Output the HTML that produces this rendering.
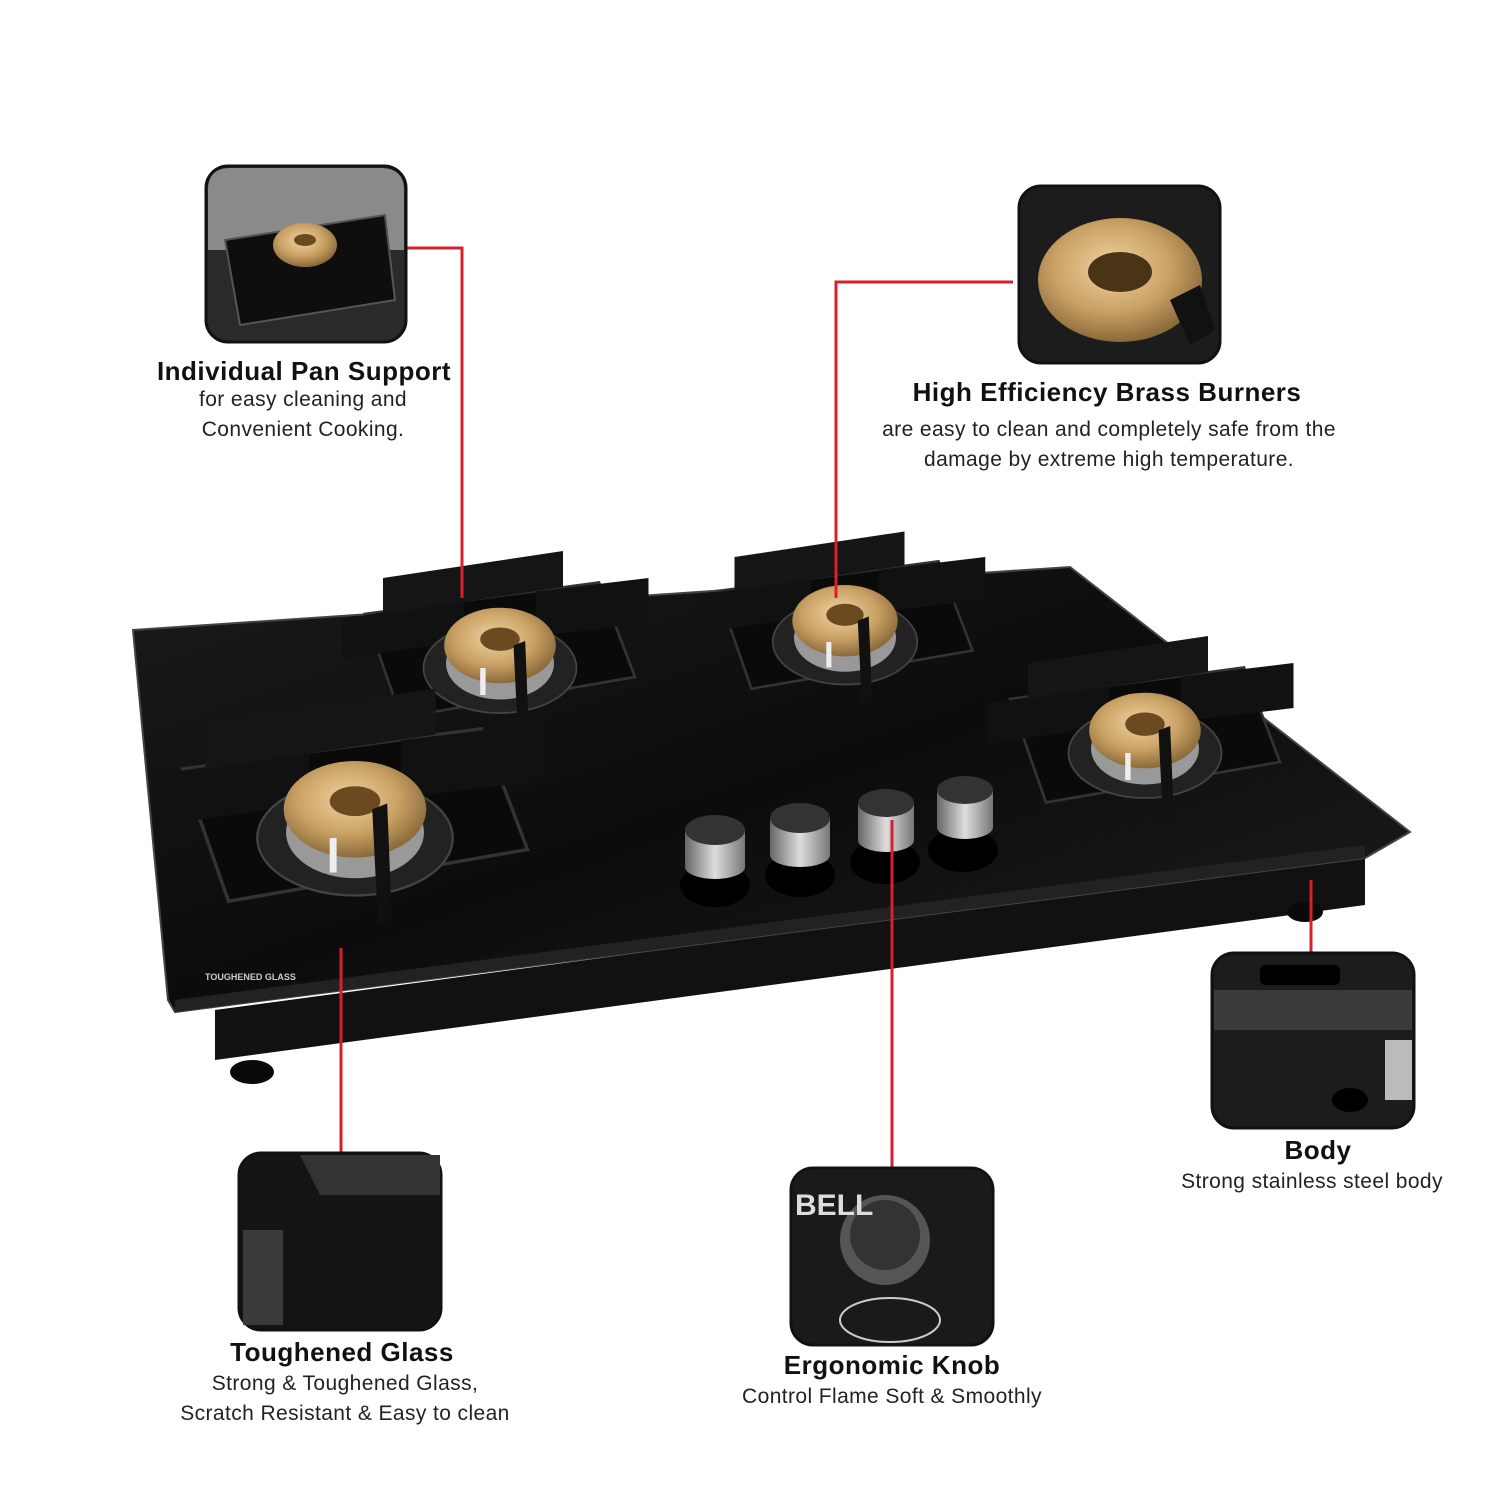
<!DOCTYPE html>
<html><head><meta charset="utf-8"><style>
html,body{margin:0;padding:0;background:#fff}
svg{display:block}
.t{font-family:"Liberation Sans",sans-serif;font-weight:bold;font-size:26px;fill:#111;letter-spacing:0.5px}
.s{font-family:"Liberation Sans",sans-serif;font-size:21px;fill:#222;letter-spacing:0.4px}
</style></head><body>
<svg width="1500" height="1500" viewBox="0 0 1500 1500" xmlns="http://www.w3.org/2000/svg">
<defs>
<radialGradient id="brass" cx="45%" cy="40%" r="60%"><stop offset="0" stop-color="#f0d4a0"/><stop offset="0.6" stop-color="#c9a064"/><stop offset="1" stop-color="#8a6a3a"/></radialGradient>
<linearGradient id="glass" x1="0" y1="0" x2="1" y2="1"><stop offset="0" stop-color="#1a1a1a"/><stop offset="0.5" stop-color="#0c0c0c"/><stop offset="1" stop-color="#1e1e1e"/></linearGradient>
<linearGradient id="knob" x1="0" y1="0" x2="1" y2="0"><stop offset="0" stop-color="#666"/><stop offset="0.5" stop-color="#ddd"/><stop offset="1" stop-color="#777"/></linearGradient>
<g id="burner">
  <polygon points="-150,-40 110,-75 150,30 -110,75" fill="#0a0a0a" stroke="#333" stroke-width="3"/>
  <polygon points="-175,-35 -40,-55 -40,-10 -175,10" fill="#111"/>
  <polygon points="40,-65 165,-80 165,-30 40,-15" fill="#111"/>
  <polygon points="-130,-80 70,-110 70,-70 -130,-40" fill="#151515"/>
  <ellipse cx="0" cy="20" rx="85" ry="50" fill="#222" stroke="#444" stroke-width="2"/>
  <ellipse cx="0" cy="15" rx="60" ry="40" fill="#999"/>
  <ellipse cx="0" cy="-5" rx="62" ry="42" fill="url(#brass)"/>
  <ellipse cx="0" cy="-12" rx="22" ry="13" fill="#6b4a22"/>
  <polygon points="15,-5 28,-10 32,90 20,95" fill="#111"/>
  <rect x="-22" y="20" width="6" height="30" fill="#eee"/>
</g>
</defs>
<rect width="1500" height="1500" fill="#fff"/>

<!-- body -->
<polygon points="215,1010 1365,855 1365,905 215,1060" fill="#111"/>
<ellipse cx="252" cy="1072" rx="22" ry="12" fill="#0a0a0a"/>
<ellipse cx="1305" cy="912" rx="18" ry="10" fill="#0a0a0a"/>
<!-- glass -->
<polygon points="133,630 1070,567 1410,832 1365,858 175,1012 168,1000" fill="url(#glass)" stroke="#444" stroke-width="2"/>
<polygon points="175,1000 1365,845 1365,858 175,1012" fill="#222"/>

<!-- burners -->
<use href="#burner" transform="translate(500,650) scale(0.9)"/>
<use href="#burner" transform="translate(845,625) scale(0.85)"/>
<use href="#burner" transform="translate(1145,735) scale(0.9)"/>
<use href="#burner" transform="translate(355,815) scale(1.15)"/>

<!-- knobs -->
<g>
<ellipse cx="715" cy="885" rx="35" ry="22" fill="#000"/><path d="M685,832 a30,15 0 0 1 60,0 v35 a30,12 0 0 1 -60,0z" fill="url(#knob)"/><ellipse cx="715" cy="830" rx="30" ry="15" fill="#333"/>
<ellipse cx="800" cy="875" rx="35" ry="22" fill="#000"/><path d="M770,820 a30,15 0 0 1 60,0 v35 a30,12 0 0 1 -60,0z" fill="url(#knob)"/><ellipse cx="800" cy="818" rx="30" ry="15" fill="#333"/>
<ellipse cx="885" cy="862" rx="35" ry="22" fill="#000"/><path d="M858,805 a28,14 0 0 1 56,0 v35 a28,12 0 0 1 -56,0z" fill="url(#knob)"/><ellipse cx="886" cy="803" rx="28" ry="14" fill="#333"/>
<ellipse cx="963" cy="850" rx="35" ry="22" fill="#000"/><path d="M937,792 a28,14 0 0 1 56,0 v35 a28,12 0 0 1 -56,0z" fill="url(#knob)"/><ellipse cx="965" cy="790" rx="28" ry="14" fill="#333"/>
</g>
<text x="205" y="980" font-family="Liberation Sans" font-size="9" fill="#ccc" font-weight="bold">TOUGHENED GLASS</text>

<!-- red connectors -->
<g stroke="#d6202f" stroke-width="3" fill="none">
<polyline points="406,248 462,248 462,598"/>
<polyline points="1013,282 836,282 836,598"/>
<line x1="341" y1="948" x2="341" y2="1152"/>
<line x1="892" y1="820" x2="892" y2="1168"/>
<line x1="1311" y1="880" x2="1311" y2="953"/>
</g>

<!-- callout boxes -->
<g stroke="#111" stroke-width="3">
<rect x="206" y="166" width="200" height="176" rx="22" fill="#2a2a2a"/>
<rect x="1019" y="186" width="201" height="177" rx="22" fill="#1c1c1c"/>
<rect x="239" y="1153" width="202" height="177" rx="22" fill="#141414"/>
<rect x="791" y="1168" width="202" height="177" rx="22" fill="#1a1a1a"/>
<rect x="1212" y="953" width="202" height="175" rx="22" fill="#1c1c1c"/>
</g>
<!-- box details -->
<path d="M208,190 q0,-22 22,-22 h150 q24,0 24,22 v60 l-196,0z" fill="#8a8a8a"/>
<polygon points="225,240 385,215 395,300 240,325" fill="#0e0e0e" stroke="#555" stroke-width="2"/>
<ellipse cx="305" cy="245" rx="32" ry="22" fill="url(#brass)"/><ellipse cx="305" cy="240" rx="11" ry="6" fill="#6b4a22"/>
<ellipse cx="1120" cy="280" rx="82" ry="62" fill="url(#brass)"/><ellipse cx="1120" cy="272" rx="32" ry="20" fill="#4a3418"/>
<polygon points="1170,300 1200,285 1215,330 1190,345" fill="#111"/>
<polygon points="300,1155 440,1155 440,1195 320,1195" fill="#333"/>
<rect x="243" y="1230" width="40" height="95" fill="#3a3a3a"/>
<circle cx="885" cy="1240" r="45" fill="#555"/><circle cx="885" cy="1235" r="35" fill="#333"/>
<ellipse cx="890" cy="1320" rx="50" ry="22" fill="none" stroke="#ccc" stroke-width="2"/>
<text x="795" y="1215" font-family="Liberation Sans" font-weight="bold" font-size="30" fill="#ddd">BELL</text>
<rect x="1214" y="990" width="198" height="40" fill="#3a3a3a"/>
<rect x="1260" y="965" width="80" height="20" rx="5" fill="#000"/>
<rect x="1385" y="1040" width="27" height="60" fill="#bbb"/>
<ellipse cx="1350" cy="1100" rx="18" ry="12" fill="#000"/>

<!-- labels -->
<text class="t" x="304" y="380" text-anchor="middle">Individual Pan Support</text>
<text class="s" x="303" y="406" text-anchor="middle">for easy cleaning and</text>
<text class="s" x="303" y="436" text-anchor="middle">Convenient Cooking.</text>

<text class="t" x="1107" y="401" text-anchor="middle">High Efficiency Brass Burners</text>
<text class="s" x="1109" y="436" text-anchor="middle">are easy to clean and completely safe from the</text>
<text class="s" x="1109" y="466" text-anchor="middle">damage by extreme high temperature.</text>

<text class="t" x="342" y="1361" text-anchor="middle">Toughened Glass</text>
<text class="s" x="345" y="1390" text-anchor="middle">Strong &amp; Toughened Glass,</text>
<text class="s" x="345" y="1420" text-anchor="middle">Scratch Resistant &amp; Easy to clean</text>

<text class="t" x="892" y="1374" text-anchor="middle">Ergonomic Knob</text>
<text class="s" x="892" y="1403" text-anchor="middle">Control Flame Soft &amp; Smoothly</text>

<text class="t" x="1318" y="1159" text-anchor="middle">Body</text>
<text class="s" x="1312" y="1188" text-anchor="middle">Strong stainless steel body</text>
</svg>
</body></html>
